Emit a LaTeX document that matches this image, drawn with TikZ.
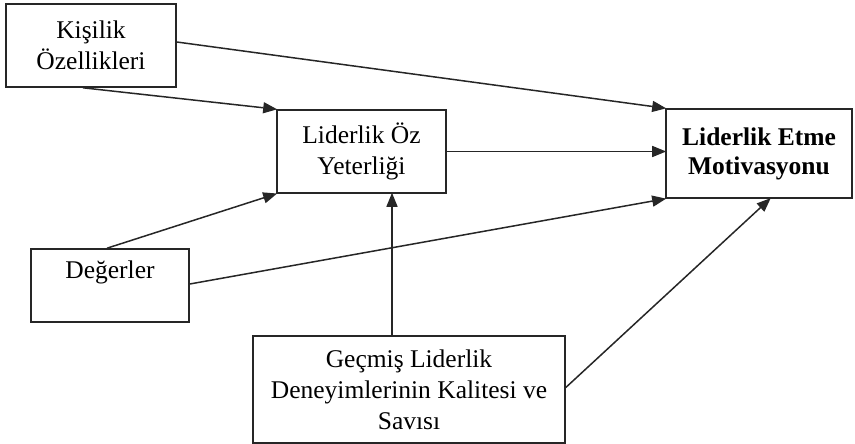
\documentclass[tikz,border=0pt]{standalone}
\usepackage{fontspec}
\setmainfont{Liberation Serif}
\usetikzlibrary{arrows.meta}
\begin{document}
\begin{tikzpicture}[x=1pt,y=-1pt,
  box/.style={draw=black!85, line width=1.6pt, inner sep=0pt, align=center,
    font=\fontsize{25.5}{31}\selectfont},
  arr/.style={line width=1.5pt, draw=black!85, -{Triangle[length=14pt,width=11pt]}, shorten >=-1pt}]
\useasboundingbox (0,0) rectangle (855,444);
\node[box, minimum width=170pt, minimum height=83pt] (k) at (91,45.5) {Kişilik\\Özellikleri};
\node[box, minimum width=169pt, minimum height=83pt] (o) at (361.5,151.5) {Liderlik Öz\\Yeterliği};
\node[box, minimum width=186pt, minimum height=89pt, font=\fontsize{25.5}{29}\selectfont\bfseries] (m) at (759,153.5) {Liderlik Etme\\Motivasyonu};
\node[box, minimum width=158pt, minimum height=73pt] (d) at (110,285.5) {};
\node[font=\fontsize{25.5}{31}\selectfont, inner sep=0pt] (dt) at (110,272) {Değerler};
\node[box, minimum width=312pt, minimum height=107pt] (g) at (409,389.5) {Geçmiş Liderlik\\Deneyimlerinin Kalitesi ve\\Savısı};
\draw[arr] ([yshift=3.5pt]k.east) -- (m.north west);
\draw[arr] ([xshift=-8pt]k.south) -- (o.north west);
\draw[arr] ([xshift=-3pt]d.north) -- (o.south west);
\draw[arr] ([yshift=1.5pt]d.east) -- (m.south west);
\draw[arr] (o.east) -- (o.east -| m.west);
\draw[arr] ([xshift=-17pt]g.north) -- ([xshift=-17pt]g.north |- o.south);
\draw[arr] ([yshift=2pt]g.east) -- ([xshift=11pt]m.south);
\end{tikzpicture}
\end{document}
